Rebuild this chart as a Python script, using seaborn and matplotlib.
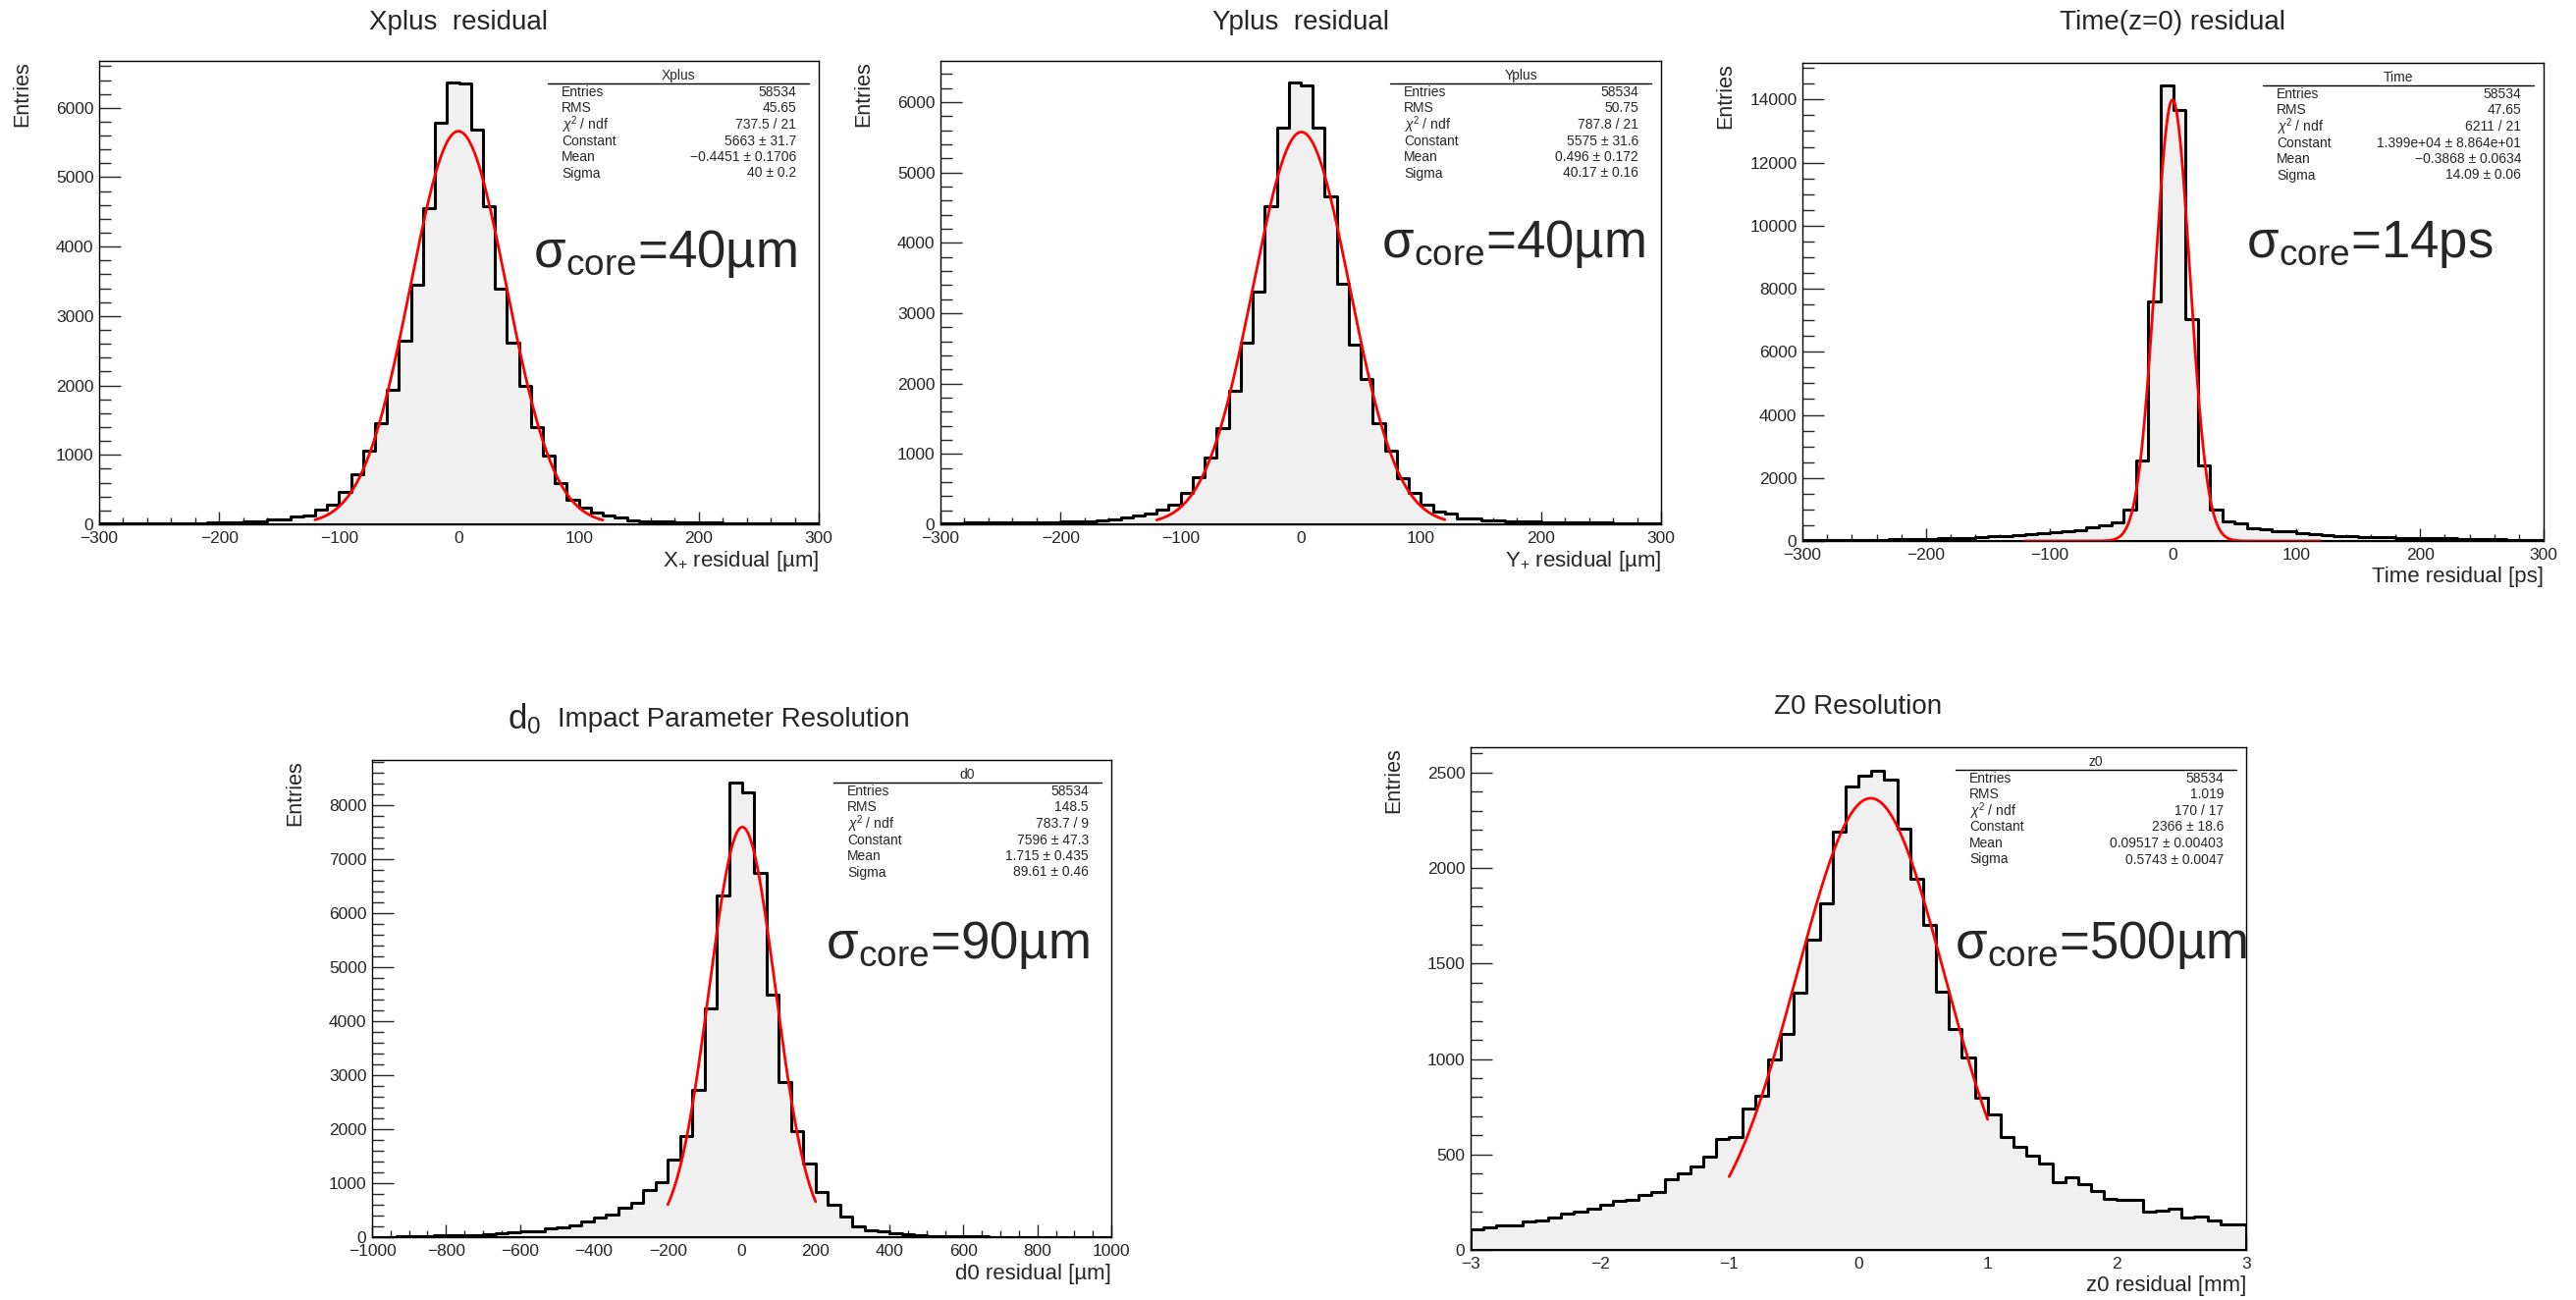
import numpy as np
import pandas as pd
import matplotlib
matplotlib.use("Agg")
import matplotlib.pyplot as plt
from matplotlib.ticker import MultipleLocator
import seaborn as sns

# --- bin contents (60 bins per panel) ---
xplus_counts = [8, 9, 10, 11, 12, 14, 16, 18, 20, 23,
                27, 31, 38, 47, 70, 76, 114, 130, 211, 282,
                466, 715, 1057, 1458, 1935, 2650, 3453, 4553, 5789, 6358,
                6347, 5686, 4585, 3398, 2618, 2000, 1404, 997, 596, 352,
                244, 163, 125, 98, 60, 49, 43, 38, 33, 28,
                25, 22, 20, 18, 16, 14, 12, 11, 10, 9]

yplus_counts = [18, 20, 25, 26, 27, 28, 30, 32, 33, 34,
                43, 42, 44, 55, 70, 91, 123, 150, 203, 278,
                444, 668, 947, 1364, 1898, 2583, 3310, 4519, 5642, 6273,
                6241, 5631, 4658, 3422, 2551, 2059, 1433, 1043, 658, 449,
                278, 187, 155, 86, 86, 59, 50, 48, 40, 35,
                32, 30, 28, 26, 25, 24, 20, 18, 16, 15]

time_counts = [20, 22, 26, 30, 35, 38, 42, 48, 55, 63,
               72, 83, 95, 107, 119, 143, 167, 191, 227, 250,
               286, 310, 358, 429, 501, 596, 990, 2540, 7596, 14441,
               13678, 7024, 2385, 990, 632, 572, 417, 382, 322, 322,
               238, 227, 191, 167, 143, 131, 120, 112, 105, 98,
               92, 85, 78, 70, 62, 55, 48, 40, 34, 28]

d0_counts = [5, 8, 10, 15, 22, 30, 30, 37, 45, 60,
             75, 90, 104, 112, 172, 179, 224, 291, 358, 418,
             545, 634, 866, 1022, 1433, 1873, 2731, 4231, 6328, 8418,
             8231, 6746, 4493, 2873, 1963, 1366, 843, 604, 373, 209,
             134, 104, 75, 52, 37, 22, 22, 15, 12, 10,
             8, 7, 6, 5, 5, 4, 4, 3, 3, 2]

z0_counts = [106, 116, 129, 131, 148, 154, 169, 190, 199, 216,
             237, 256, 262, 288, 305, 368, 402, 438, 489, 582,
             592, 740, 810, 1000, 1134, 1345, 1624, 1817, 2189, 2426,
             2485, 2508, 2462, 2206, 1944, 1705, 1354, 1159, 1009, 799,
             709, 594, 539, 493, 455, 353, 383, 345, 309, 266,
             260, 260, 201, 207, 218, 169, 176, 154, 133, 133]

x_ranges = [(-300, 300), (-300, 300), (-300, 300), (-1000, 1000), (-3, 3)]

# gaussian fit parameters (Constant, Mean, Sigma) and fit range
fit_params = [(5663, -0.4451, 40.0), (5575, 0.496, 40.17), (13990, -0.3868, 14.09),
              (7596, 1.715, 89.61), (2366, 0.09517, 0.5743)]
fit_ranges = [(-120, 120), (-120, 120), (-120, 120), (-200, 200), (-1, 1)]

titles = ["Xplus  residual", "Yplus  residual", "Time(z=0) residual",
          "Impact Parameter Resolution", "Z0 Resolution"]
xlabels = [r"X$_{+}$ residual [µm]", r"Y$_{+}$ residual [µm]", "Time residual [ps]",
           "d0 residual [µm]", "z0 residual [mm]"]
core_labels = ["=40µm", "=40µm", "=14ps", "=90µm", "=500µm"]

stat_names = ["Xplus", "Yplus", "Time", "d0", "z0"]
stat_keys = ["Entries", "RMS", r"$\chi^{2}$ / ndf", "Constant", "Mean", "Sigma"]
stat_values = [
    ["58534", "45.65", "737.5 / 21", "5663 ± 31.7", "−0.4451 ± 0.1706", "40 ± 0.2"],
    ["58534", "50.75", "787.8 / 21", "5575 ± 31.6", "0.496 ± 0.172", "40.17 ± 0.16"],
    ["58534", "47.65", "6211 / 21", "1.399e+04 ± 8.864e+01", "−0.3868 ± 0.0634", "14.09 ± 0.06"],
    ["58534", "148.5", "783.7 / 9", "7596 ± 47.3", "1.715 ± 0.435", "89.61 ± 0.46"],
    ["58534", "1.019", "170 / 17", "2366 ± 18.6", "0.09517 ± 0.00403", "0.5743 ± 0.0047"],
]

# --- layout (pixels in a 2624x1324 canvas) ---
W, H = 2624, 1324
boxes = [(101, 62, 834, 534), (958, 62, 1692, 534), (1836, 64, 2591, 551),
         (379, 774, 1132, 1260), (1498, 761, 2288, 1273)]
title_pos = [(467, 23), (1325, 23), (2213, 23), (747, 733), (1893, 720)]
core_pos = [(543, 272), (1407, 262), (2288, 262), (841, 976), (1991, 976)]
stat_width = [266, 266, 276, 273, 286]
x_major = [100, 100, 100, 200, 1]
x_minor = [20, 20, 20, 50, 0.2]
y_major = [1000, 1000, 2000, 1000, 500]
y_minor = [200, 200, 500, 200, 100]

sns.set_style("white")
plt.rcParams["font.family"] = ["Liberation Sans", "DejaVu Sans"]
plt.rcParams["mathtext.fontset"] = "custom"
plt.rcParams["mathtext.rm"] = "Liberation Sans"
plt.rcParams["mathtext.it"] = "Liberation Sans:italic"
plt.rcParams["axes.unicode_minus"] = True

fig = plt.figure(figsize=(W / 100, H / 100), dpi=100)


def fx(x):
    return x / W


def fy(y):
    return 1 - y / H


all_counts = [xplus_counts, yplus_counts, time_counts, d0_counts, z0_counts]

for i, counts in enumerate(all_counts):
    l, t, r, b = boxes[i]
    ax = fig.add_axes([fx(l), fy(b), (r - l) / W, (b - t) / H])
    lo, hi = x_ranges[i]
    nb = len(counts)
    edges = np.linspace(lo, hi, nb + 1)
    df = pd.DataFrame({"x": (edges[:-1] + edges[1:]) / 2, "n": counts})

    sns.histplot(data=df, x="x", weights="n", bins=nb, binrange=(lo, hi),
                 element="step", fill=True, facecolor="#f0f0f0", edgecolor="black",
                 linewidth=2.2, alpha=1, ax=ax)

    c, mu, sg = fit_params[i]
    xf = np.linspace(fit_ranges[i][0], fit_ranges[i][1], 400)
    sns.lineplot(x=xf, y=c * np.exp(-0.5 * ((xf - mu) / sg) ** 2), color="red",
                 linewidth=2.0, ax=ax)

    ax.set_xlim(lo, hi)
    ax.set_ylim(0, 1.05 * max(counts))
    ax.set_xlabel("")
    ax.set_ylabel("")
    ax.xaxis.set_major_locator(MultipleLocator(x_major[i]))
    ax.xaxis.set_minor_locator(MultipleLocator(x_minor[i]))
    ax.yaxis.set_major_locator(MultipleLocator(y_major[i]))
    ax.yaxis.set_minor_locator(MultipleLocator(y_minor[i]))
    ax.tick_params(axis="y", which="major", direction="in", length=16, width=1.0,
                   labelsize=12.5, pad=4, left=True, right=False)
    ax.tick_params(axis="y", which="minor", direction="in", length=8.5, width=1.0,
                   left=True, right=False)
    ax.tick_params(axis="x", which="major", direction="in", length=9.5, width=1.0,
                   labelsize=12.5, pad=5, bottom=True, top=False)
    ax.tick_params(axis="x", which="minor", direction="in", length=5, width=1.0,
                   bottom=True, top=False)
    for s in ax.spines.values():
        s.set_color("black")
        s.set_linewidth(1.0)

    # titles and axis labels
    fig.text(fx(title_pos[i][0]), fy(title_pos[i][1]), titles[i], ha="center",
             va="center", fontsize=20)
    fig.text(fx(l - 78), fy(t), "Entries", rotation=90, ha="center", va="top",
             fontsize=15.5)
    fig.text(fx(r), fy(b + 37), xlabels[i], ha="right", va="center", fontsize=16)

    # stats box (ROOT style)
    sr = r - 10
    sl = sr - stat_width[i]
    fig.text(fx((sl + sr) / 2), fy(t + 15), stat_names[i], ha="center", va="center",
             fontsize=10)
    ax.plot([(sl - l) / (r - l), (sr - l) / (r - l)],
            [(b - (t + 23)) / (b - t)] * 2, color="black", linewidth=1.0,
            transform=ax.transAxes, clip_on=False)
    for k, (key, val) in enumerate(zip(stat_keys, stat_values[i])):
        yy = t + 32 + 16.5 * k
        fig.text(fx(sl + 14), fy(yy), key, ha="left", va="center", fontsize=10)
        fig.text(fx(sr - 13), fy(yy), val, ha="right", va="center", fontsize=10)

    # sigma core annotation
    fig.text(fx(core_pos[i][0]), fy(core_pos[i][1]),
             r"$\mathregular{\sigma_{core}}$" + core_labels[i], ha="left",
             va="baseline", fontsize=38)

# larger d0 in front of the fourth title
fig.text(fx(517), fy(742), r"$\mathregular{d_0}$", ha="left", va="baseline",
         fontsize=25)

fig.savefig("out.png", dpi=100)
